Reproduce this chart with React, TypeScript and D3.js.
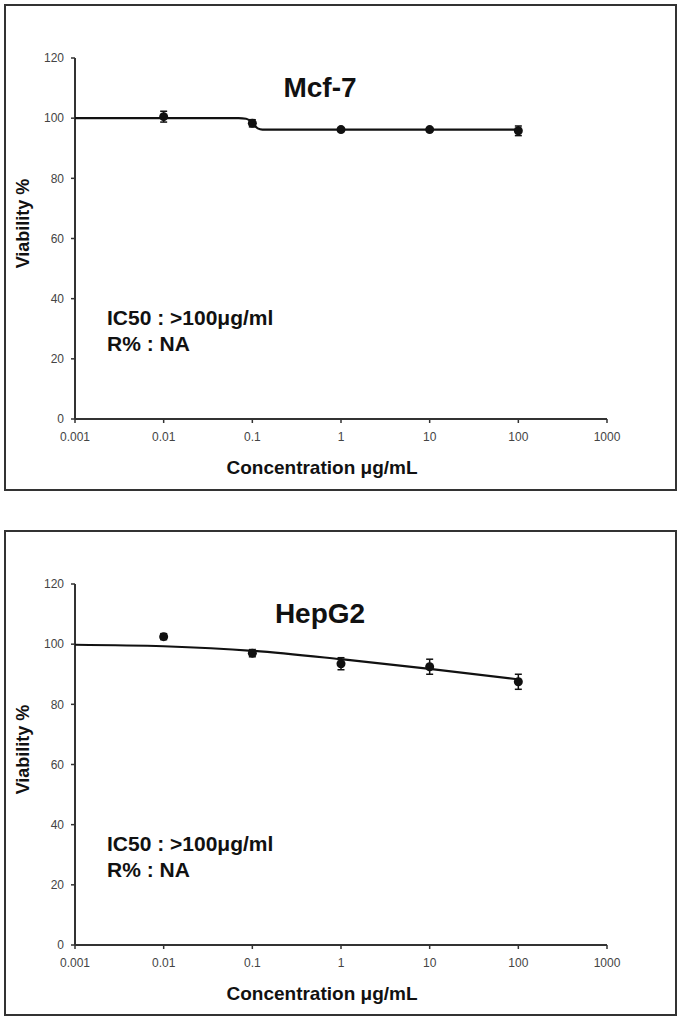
import React from "react";
import * as d3 from "d3";

const xTicks = [0.001, 0.01, 0.1, 1, 10, 100, 1000];
const xTickLabels = ["0.001", "0.01", "0.1", "1", "10", "100", "1000"];
const yTicks = [0, 20, 40, 60, 80, 100, 120];

const concentrations = [0.01, 0.1, 1, 10, 100];

const mcf7Viability = [100.5, 98.3, 96.2, 96.2, 95.8];
const mcf7Error = [1.8, 1.2, 0.6, 0.6, 1.6];
const mcf7FitX = [0.001, 0.01, 0.07, 0.085, 0.1, 0.115, 0.13, 1, 10, 100];
const mcf7FitY = [100, 100, 100, 99.8, 98.5, 96.6, 96.2, 96.2, 96.2, 96.2];

const hepg2Viability = [102.5, 97, 93.5, 92.5, 87.5];
const hepg2Error = [1, 1.2, 2, 2.5, 2.5];
const hepg2FitX = [0.001, 0.01, 0.1, 1, 10, 100];
const hepg2FitY = [99.8, 99.3, 97.8, 95, 91.8, 88.3];

const FONT = "'Liberation Sans', Arial, sans-serif";

type PanelProps = {
  top: number;
  height: number;
  title: string;
  values: number[];
  errors: number[];
  fitX: number[];
  fitY: number[];
};

function Panel({ top, height, title, values, errors, fitX, fitY }: PanelProps) {
  const x0 = 75;
  const x1 = 607;
  const yTop = top + 53;
  const yBot = top + 414;
  const x = d3.scaleLog().domain([0.001, 1000]).range([x0, x1]);
  const y = d3.scaleLinear().domain([0, 120]).range([yBot, yTop]);
  const fit = fitX.map((c, i) => [c, fitY[i]] as [number, number]);
  const linePx = d3
    .line<[number, number]>()
    .x((d) => x(d[0]))
    .y((d) => y(d[1]))
    .curve(d3.curveMonotoneX);
  return (
    <g>
      <rect x={5} y={top} width={671} height={height} fill="white" stroke="#333" strokeWidth={2} />
      <line x1={x0} x2={x0} y1={yTop} y2={yBot} stroke="#333" strokeWidth={2} />
      {yTicks.map((t) => (
        <g key={t}>
          <line x1={x0 - 4} x2={x0} y1={y(t)} y2={y(t)} stroke="#333" strokeWidth={1.5} />
          <text x={x0 - 11} y={y(t)} dy="0.35em" textAnchor="end" fontSize={12} fill="#444" fontFamily={FONT}>
            {t}
          </text>
        </g>
      ))}
      <line x1={x0} x2={x1} y1={yBot} y2={yBot} stroke="#333" strokeWidth={2} />
      {xTicks.map((t, i) => (
        <g key={t}>
          <line x1={x(t)} x2={x(t)} y1={yBot} y2={yBot + 4} stroke="#333" strokeWidth={1.5} />
          <text x={x(t)} y={yBot + 22} textAnchor="middle" fontSize={12} fill="#444" fontFamily={FONT}>
            {xTickLabels[i]}
          </text>
        </g>
      ))}
      <text x={322} y={yBot + 55} textAnchor="middle" fontSize={19} fontWeight="bold" fill="#111" fontFamily={FONT}>
        Concentration μg/mL
      </text>
      <text
        transform={`translate(29,${(yTop + yBot) / 2 - 15}) rotate(-90)`}
        textAnchor="middle"
        fontSize={18}
        fontWeight="bold"
        fill="#111"
        fontFamily={FONT}
      >
        Viability %
      </text>
      <text x={320} y={top + 92} textAnchor="middle" fontSize={28} fontWeight="bold" fill="#111" fontFamily={FONT}>
        {title}
      </text>
      <text x={107} y={top + 320} fontSize={21} fontWeight="bold" fill="#111" fontFamily={FONT}>
        IC50 : &gt;100μg/ml
      </text>
      <text x={107} y={top + 346} fontSize={21} fontWeight="bold" fill="#111" fontFamily={FONT}>
        R% : NA
      </text>
      <path d={linePx(fit) || ""} fill="none" stroke="#111" strokeWidth={2.2} />
      {concentrations.map((c, i) => {
        const cx = x(c);
        const hi = y(values[i] + errors[i]);
        const lo = y(values[i] - errors[i]);
        return (
          <g key={c}>
            <line x1={cx} x2={cx} y1={hi} y2={lo} stroke="#111" strokeWidth={1.5} />
            <line x1={cx - 3.5} x2={cx + 3.5} y1={hi} y2={hi} stroke="#111" strokeWidth={1.5} />
            <line x1={cx - 3.5} x2={cx + 3.5} y1={lo} y2={lo} stroke="#111" strokeWidth={1.5} />
            <circle cx={cx} cy={y(values[i])} r={4.5} fill="#111" />
          </g>
        );
      })}
    </g>
  );
}

export default function App() {
  return (
    <svg width={685} height={1020} style={{ position: "absolute", left: 0, top: 0, background: "white" }}>
      <rect x={0} y={0} width={685} height={1020} fill="white" />
      <Panel
        top={5}
        height={485}
        title="Mcf-7"
        values={mcf7Viability}
        errors={mcf7Error}
        fitX={mcf7FitX}
        fitY={mcf7FitY}
      />
      <Panel
        top={531}
        height={484}
        title="HepG2"
        values={hepg2Viability}
        errors={hepg2Error}
        fitX={hepg2FitX}
        fitY={hepg2FitY}
      />
    </svg>
  );
}
